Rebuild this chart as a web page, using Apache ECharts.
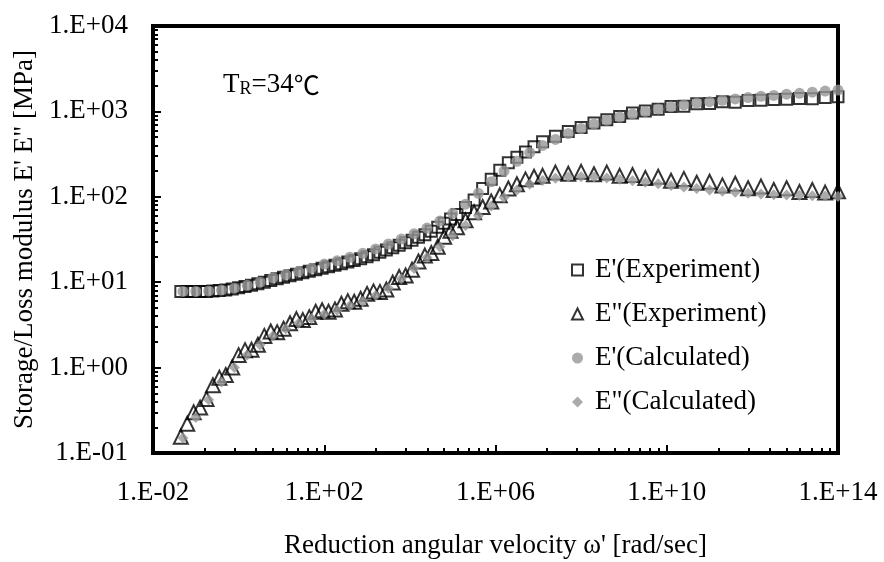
<!DOCTYPE html>
<html><head><meta charset="utf-8">
<script src="https://cdn.jsdelivr.net/npm/echarts@6/dist/echarts.min.js"></script>
<style>html,body{margin:0;padding:0;background:#fff}#c{width:884px;height:562px}</style>
</head><body><div id="c"></div>
<script>
// log10 of reduction angular velocity (rad/sec) for measured points
const expOmegaExp = [-1.35,-1.2,-1.05,-0.9,-0.75,-0.6,-0.45,-0.3,-0.15,0,
 0.15,0.3,0.45,0.6,0.75,0.9,1.05,1.2,1.35,1.5,
 1.65,1.8,1.95,2.1,2.25,2.4,2.55,2.7,2.85,3.0,
 3.15,3.3,3.45,3.6,3.75,3.9,4.05,4.2,4.35,4.5,
 4.65,4.8,4.95,5.1,5.3,5.5,5.7,5.9,6.1,6.3,
 6.5,6.7,6.9,7.1,7.4,7.7,8.0,8.3,8.6,8.9,
 9.2,9.5,9.8,10.1,10.4,10.7,11.0,11.3,11.6,11.9,
 12.2,12.5,12.8,13.1,13.4,13.7,14.0];
// E' (Experiment) [MPa]
const expStorage = [7.8,7.8,7.8,7.8,7.8,7.9,8.0,8.1,8.3,8.6,
 8.9,9.2,9.6,10.0,10.5,11.0,11.4,11.9,12.4,12.9,
 13.4,14.0,14.6,15.2,15.8,16.5,17.2,18.0,18.8,19.8,
 21.0,22.4,23.8,25.4,27.0,29.0,31.0,33.5,36.0,39.5,
 44,49,55,62,75,92,125,160,205,250,
 290,335,385,440,510,580,650,730,800,870,
 960,1010,1060,1140,1150,1230,1240,1300,1280,1340,
 1350,1380,1390,1420,1410,1450,1480];
// E" (Experiment) [MPa]
const expLoss = [0.155,0.22,0.3,0.34,0.43,0.62,0.76,0.82,1.0,1.4,
 1.6,1.62,1.85,2.35,2.65,2.6,2.85,3.3,3.7,3.6,
 3.9,4.5,4.7,4.5,4.8,5.6,6.0,5.9,6.4,7.3,
 7.8,7.7,8.2,9.9,11.5,12.0,14.0,17.5,20.5,22,
 26,34,40,44,53,66,76,88,104,125,
 140,160,172,176,192,186,196,184,192,176,
 180,166,172,154,162,146,150,136,142,126,
 132,120,126,114,120,112,116];
// log10 of reduction angular velocity for calculated points
const calOmegaExp = [-1.3,-1.0,-0.7,-0.4,-0.1,0.2,0.5,0.8,1.1,1.4,
 1.7,2.0,2.3,2.6,2.9,3.2,3.5,3.8,4.1,4.4,
 4.7,5.0,5.3,5.6,5.9,6.2,6.5,6.8,7.1,7.4,
 7.7,8.0,8.3,8.6,8.9,9.2,9.5,9.8,10.1,10.4,
 10.7,11.0,11.3,11.6,11.9,12.2,12.5,12.8,13.1,13.4,
 13.7,14.0];
// E' (Calculated) [MPa]
const calStorage = [7.8,7.8,7.9,8.1,8.5,9.2,10.0,11.3,12.3,13.4,
 14.6,16.3,17.8,19.6,21.8,24.5,28,32,37,43,
 52,64,82,110,150,200,260,330,400,470,
 550,630,710,790,860,930,1000,1070,1130,1190,
 1250,1300,1350,1400,1450,1500,1540,1590,1630,1680,
 1730,1780];
// E" (Calculated) [MPa]
const calLoss = [0.15,0.26,0.42,0.68,1.0,1.4,1.85,2.35,2.85,3.3,
 3.75,4.2,4.7,5.3,6.0,7.0,8.5,11,14.5,19.5,
 26,35,46,60,78,98,120,140,155,165,
 170,172,170,166,160,154,148,142,136,130,
 125,120,116,113,110,108,106,105,104,103,
 102,101];
// axis tick label exponents
const xTickExp = [-2, 2, 6, 10, 14];
const yTickExp = [-1, 0, 1, 2, 3, 4];

const FONT = 'Liberation Serif';
const FS = 27;
const fmtE = e => '1.E' + (e < 0 ? '-' : '+') + String(Math.abs(e)).padStart(2, '0');
const xMinor = [];
for (let i = 0; i < xTickExp.length - 1; i++) {
  const step = xTickExp[i + 1] - xTickExp[i];
  for (let k = 2; k <= 9; k++) xMinor.push(xTickExp[i] + step * Math.log10(k));
}
const yMinor = [];
for (let i = 0; i < yTickExp.length - 1; i++) {
  for (let k = 2; k <= 9; k++) yMinor.push(yTickExp[i] + Math.log10(k));
}
const pts = (xs, ys) => xs.map((e, i) => [Math.pow(10, e), ys[i]]);

const chart = echarts.init(document.getElementById('c'), null, {renderer: 'canvas'});
const hollow = {color: 'rgba(0,0,0,0)', borderColor: '#000', borderWidth: 2};
const grayFill = {color: '#969696'};
const xMin = Math.pow(10, xTickExp[0]), xMax = Math.pow(10, xTickExp[xTickExp.length - 1]);
const yMin = Math.pow(10, yTickExp[0]), yMax = Math.pow(10, yTickExp[yTickExp.length - 1]);
const tickStyle = {color: '#000', width: 2};

chart.setOption({
  animation: false,
  backgroundColor: '#fff',
  grid: {left: 153, right: 46, top: 26, bottom: 109, show: true, borderColor: '#000', borderWidth: 4,
         containLabel: false, outerBoundsMode: 'none'},
  legend: {
    orient: 'vertical', left: 566, top: 250, itemWidth: 11, itemHeight: 11, itemGap: 14,
    selectedMode: false,
    textStyle: {fontFamily: FONT, fontSize: FS, lineHeight: 30, color: '#000', padding: [0, 0, 0, 7]},
    data: [
      {name: "E'(Experiment)", icon: 'rect', itemStyle: hollow},
      {name: 'E"(Experiment)', icon: 'triangle', itemStyle: hollow},
      {name: "E'(Calculated)", icon: 'circle', itemStyle: grayFill},
      {name: 'E"(Calculated)', icon: 'diamond', itemStyle: grayFill}
    ]
  },
  xAxis: [
    {type: 'log', logBase: 10, min: xMin, max: xMax, position: 'bottom',
     axisLine: {show: true, onZero: false, lineStyle: {color: '#000', width: 4}},
     axisTick: {show: false}, axisLabel: {show: false}, splitLine: {show: false}},
    {type: 'value', min: xTickExp[0], max: xTickExp[xTickExp.length - 1], position: 'bottom',
     axisLine: {show: false, onZero: false},
     axisTick: {show: true, inside: true, length: 8, lineStyle: tickStyle, customValues: xTickExp},
     axisLabel: {show: true, customValues: xTickExp, formatter: v => fmtE(v), margin: 26,
                 fontFamily: FONT, fontSize: FS, color: '#000'},
     splitLine: {show: false},
     name: "Reduction angular velocity ω' [rad/sec]", nameLocation: 'middle', nameGap: 79,
     nameTextStyle: {fontFamily: FONT, fontSize: FS, color: '#000', verticalAlign: 'top'}},
    {type: 'value', min: xTickExp[0], max: xTickExp[xTickExp.length - 1], position: 'bottom',
     axisLine: {show: false, onZero: false},
     axisTick: {show: true, inside: true, length: 5, lineStyle: tickStyle, customValues: xMinor},
     axisLabel: {show: false}, splitLine: {show: false}}
  ],
  yAxis: [
    {type: 'log', logBase: 10, min: yMin, max: yMax, position: 'left',
     axisLine: {show: true, onZero: false, lineStyle: {color: '#000', width: 4}},
     axisTick: {show: false}, axisLabel: {show: false}, splitLine: {show: false}},
    {type: 'value', min: yTickExp[0], max: yTickExp[yTickExp.length - 1], position: 'left',
     axisLine: {show: false, onZero: false},
     axisTick: {show: true, inside: true, length: 8, lineStyle: tickStyle, customValues: yTickExp},
     axisLabel: {show: true, customValues: yTickExp, formatter: v => fmtE(v), margin: 25,
                 fontFamily: FONT, fontSize: FS, color: '#000'},
     splitLine: {show: false},
     name: 'Storage/Loss modulus E\' E" [MPa]', nameLocation: 'middle', nameGap: 114,
     nameTextStyle: {fontFamily: FONT, fontSize: FS, color: '#000'}},
    {type: 'value', min: yTickExp[0], max: yTickExp[yTickExp.length - 1], position: 'left',
     axisLine: {show: false, onZero: false},
     axisTick: {show: true, inside: true, length: 5, lineStyle: tickStyle, customValues: yMinor},
     axisLabel: {show: false}, splitLine: {show: false}}
  ],
  graphic: [{
    type: 'text', left: 223, top: 71, z: 100,
    style: {
      text: '{t|T}{s|R}{t|=34}{c|℃}',
      rich: {
        t: {fontFamily: FONT, fontSize: FS, color: '#000', lineHeight: 30, verticalAlign: 'bottom'},
        s: {fontFamily: FONT, fontSize: 18, color: '#000', lineHeight: 18, verticalAlign: 'bottom'},
        c: {fontFamily: 'Noto Sans CJK JP', fontSize: 26, color: '#000', lineHeight: 30, verticalAlign: 'bottom'}
      }
    }
  }],
  series: [
    {name: "E'(Experiment)", type: 'scatter', xAxisIndex: 0, yAxisIndex: 0, symbol: 'rect', symbolSize: 11,
     itemStyle: hollow, data: pts(expOmegaExp, expStorage), z: 2},
    {name: 'E"(Experiment)', type: 'scatter', xAxisIndex: 0, yAxisIndex: 0, symbol: 'triangle', symbolSize: 14,
     itemStyle: hollow, data: pts(expOmegaExp, expLoss), z: 2},
    {name: "E'(Calculated)", type: 'scatter', xAxisIndex: 0, yAxisIndex: 0, symbol: 'circle', symbolSize: 11,
     itemStyle: grayFill, data: pts(calOmegaExp, calStorage), z: 3},
    {name: 'E"(Calculated)', type: 'scatter', xAxisIndex: 0, yAxisIndex: 0, symbol: 'diamond', symbolSize: 11,
     itemStyle: grayFill, data: pts(calOmegaExp, calLoss), z: 3}
  ]
});
</script></body></html>
